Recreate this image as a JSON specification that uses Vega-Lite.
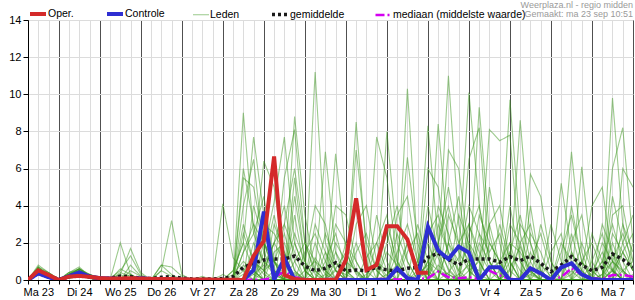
{
"$schema": "https://vega.github.io/schema/vega-lite/v6.json",
"width": 605, "height": 260,
"autosize": {"type": "none"},
"padding": {"left": 28, "top": 20, "right": 2, "bottom": 20},
"title": {"text": "Weerplaza.nl - regio midden", "subtitle": "Gemaakt: ma 23 sep 10:51", "anchor": "end", "frame": "group", "fontSize": 9, "subtitleFontSize": 9, "fontWeight": "normal", "color": "#9a9a9a", "subtitleColor": "#9a9a9a", "offset": -15, "subtitlePadding": 0, "font": "Liberation Sans", "subtitleFont": "Liberation Sans"},
"datasets": {
"op": [{"t":0,"v":0},{"t":1,"v":0.52},{"t":2,"v":0.27},{"t":3,"v":0},{"t":4,"v":0.18},{"t":5,"v":0.22},{"t":6,"v":0.17},{"t":7,"v":0.1},{"t":8,"v":0.08},{"t":9,"v":0.08},{"t":10,"v":0.1},{"t":11,"v":0.08},{"t":12,"v":0.06},{"t":13,"v":0.05},{"t":14,"v":0.05},{"t":15,"v":0.04},{"t":16,"v":0.03},{"t":17,"v":0.03},{"t":18,"v":0.02},{"t":19,"v":0.02},{"t":20,"v":0.02},{"t":21,"v":0},{"t":22,"v":1.3},{"t":23,"v":2.1},{"t":24,"v":6.65},{"t":25,"v":0.27},{"t":26,"v":0.05},{"t":27,"v":0},{"t":28,"v":0},{"t":29,"v":0},{"t":30,"v":0},{"t":31,"v":1.08},{"t":32,"v":4.4},{"t":33,"v":0.54},{"t":34,"v":0.81},{"t":35,"v":2.9},{"t":36,"v":2.9},{"t":37,"v":2.19},{"t":38,"v":0.39},{"t":39,"v":0.39}],
"ct": [{"t":0,"v":0},{"t":1,"v":0.36},{"t":2,"v":0.15},{"t":3,"v":0},{"t":4,"v":0.2},{"t":5,"v":0.41},{"t":6,"v":0.18},{"t":7,"v":0.1},{"t":8,"v":0.08},{"t":9,"v":0.06},{"t":10,"v":0.05},{"t":11,"v":0.1},{"t":12,"v":0.05},{"t":13,"v":0.03},{"t":14,"v":0.02},{"t":15,"v":0.02},{"t":16,"v":0},{"t":21,"v":0},{"t":22,"v":0.54},{"t":23,"v":3.68},{"t":24,"v":0},{"t":25,"v":1.17},{"t":26,"v":0},{"t":35,"v":0},{"t":36,"v":0.63},{"t":37,"v":0.1},{"t":38,"v":0},{"t":39,"v":2.87},{"t":40,"v":1.58},{"t":41,"v":1.13},{"t":42,"v":1.8},{"t":43,"v":1.47},{"t":44,"v":0},{"t":45,"v":0.68},{"t":46,"v":0.68},{"t":47,"v":0},{"t":48,"v":0},{"t":49,"v":0.63},{"t":50,"v":0.36},{"t":51,"v":0},{"t":52,"v":0.68},{"t":53,"v":0.9},{"t":54,"v":0.3},{"t":55,"v":0.05},{"t":56,"v":0},{"t":59,"v":0}],
"gm": [{"t":0,"v":0},{"t":1,"v":0.45},{"t":2,"v":0.25},{"t":3,"v":0.03},{"t":4,"v":0.2},{"t":5,"v":0.35},{"t":6,"v":0.2},{"t":7,"v":0.1},{"t":8,"v":0.1},{"t":9,"v":0.2},{"t":10,"v":0.18},{"t":11,"v":0.1},{"t":12,"v":0.08},{"t":13,"v":0.15},{"t":14,"v":0.18},{"t":15,"v":0.1},{"t":16,"v":0.05},{"t":17,"v":0.05},{"t":18,"v":0.05},{"t":19,"v":0.08},{"t":20,"v":0.18},{"t":21,"v":0.68},{"t":22,"v":0.9},{"t":23,"v":1.08},{"t":24,"v":1.13},{"t":25,"v":1.13},{"t":26,"v":1.29},{"t":27,"v":0.75},{"t":28,"v":0.5},{"t":29,"v":0.63},{"t":30,"v":0.93},{"t":31,"v":0.48},{"t":32,"v":0.54},{"t":33,"v":0.5},{"t":34,"v":0.68},{"t":35,"v":0.54},{"t":36,"v":0.5},{"t":37,"v":0.63},{"t":38,"v":0.68},{"t":39,"v":1.22},{"t":40,"v":1.44},{"t":41,"v":1.11},{"t":42,"v":0.81},{"t":43,"v":1.13},{"t":44,"v":1.13},{"t":45,"v":1.13},{"t":46,"v":0.95},{"t":47,"v":1.26},{"t":48,"v":1.04},{"t":49,"v":1.29},{"t":50,"v":0.9},{"t":51,"v":0.45},{"t":52,"v":0.81},{"t":53,"v":1.26},{"t":54,"v":0.81},{"t":55,"v":0.5},{"t":56,"v":0.68},{"t":57,"v":1.4},{"t":58,"v":1.11},{"t":59,"v":0.68}],
"md": [{"t":0,"v":0},{"t":1,"v":0.4},{"t":2,"v":0.2},{"t":3,"v":0},{"t":4,"v":0.2},{"t":5,"v":0.35},{"t":6,"v":0.15},{"t":7,"v":0.05},{"t":8,"v":0.02},{"t":23,"v":0.02},{"t":24,"v":0.15},{"t":25,"v":0.45},{"t":26,"v":0.15},{"t":27,"v":0.05},{"t":28,"v":0.03},{"t":29,"v":0.05},{"t":30,"v":0.05},{"t":31,"v":0.05},{"t":32,"v":0.03},{"t":33,"v":0.03},{"t":34,"v":0.05},{"t":35,"v":0.05},{"t":36,"v":0.03},{"t":37,"v":0.05},{"t":38,"v":0.05},{"t":39,"v":0.1},{"t":40,"v":0.45},{"t":41,"v":0.15},{"t":42,"v":0.1},{"t":43,"v":0.15},{"t":44,"v":0.05},{"t":45,"v":0.5},{"t":46,"v":0.25},{"t":47,"v":0.05},{"t":48,"v":0.05},{"t":49,"v":0.68},{"t":50,"v":0.3},{"t":51,"v":0.05},{"t":52,"v":0.15},{"t":53,"v":0.63},{"t":54,"v":0.3},{"t":55,"v":0.1},{"t":56,"v":0.05},{"t":57,"v":0.27},{"t":58,"v":0.27},{"t":59,"v":0.18}],
"L": [
{"m":1,"t":0,"v":0},{"m":1,"t":1,"v":0.6},{"m":1,"t":2,"v":0.3},{"m":1,"t":3,"v":0},{"m":1,"t":4,"v":0.2},{"m":1,"t":5,"v":0.4},{"m":1,"t":6,"v":0.2},{"m":1,"t":7,"v":0.1},{"m":1,"t":8,"v":0},{"m":1,"t":20,"v":0},{"m":1,"t":21,"v":9},{"m":1,"t":22,"v":2.5},{"m":1,"t":23,"v":1},{"m":1,"t":24,"v":0.5},{"m":1,"t":25,"v":0},{"m":1,"t":27,"v":0},{"m":1,"t":28,"v":1.2},{"m":1,"t":29,"v":0.3},{"m":1,"t":30,"v":0},{"m":1,"t":33,"v":0},{"m":1,"t":34,"v":0.8},{"m":1,"t":35,"v":2.5},{"m":1,"t":36,"v":0.5},{"m":1,"t":37,"v":0},{"m":1,"t":39,"v":0},{"m":1,"t":40,"v":1.5},{"m":1,"t":41,"v":11},{"m":1,"t":42,"v":3},{"m":1,"t":43,"v":0.5},{"m":1,"t":44,"v":0},{"m":1,"t":46,"v":0},{"m":1,"t":47,"v":0.6},{"m":1,"t":48,"v":1.8},{"m":1,"t":49,"v":0.4},{"m":1,"t":50,"v":0},{"m":1,"t":55,"v":0},{"m":1,"t":56,"v":0.3},{"m":1,"t":57,"v":2},{"m":1,"t":58,"v":0.5},{"m":1,"t":59,"v":0},
{"m":2,"t":0,"v":0},{"m":2,"t":1,"v":0.4},{"m":2,"t":2,"v":0.2},{"m":2,"t":3,"v":0},{"m":2,"t":4,"v":0.3},{"m":2,"t":5,"v":0.6},{"m":2,"t":6,"v":0.2},{"m":2,"t":7,"v":0.05},{"m":2,"t":8,"v":0},{"m":2,"t":19,"v":0},{"m":2,"t":20,"v":0.5},{"m":2,"t":21,"v":2},{"m":2,"t":22,"v":7.7},{"m":2,"t":23,"v":3.5},{"m":2,"t":24,"v":1},{"m":2,"t":25,"v":0.3},{"m":2,"t":26,"v":0},{"m":2,"t":29,"v":0},{"m":2,"t":30,"v":0.6},{"m":2,"t":31,"v":1.5},{"m":2,"t":32,"v":0.4},{"m":2,"t":33,"v":0},{"m":2,"t":37,"v":0},{"m":2,"t":38,"v":0.5},{"m":2,"t":39,"v":8.3},{"m":2,"t":40,"v":2},{"m":2,"t":41,"v":0.5},{"m":2,"t":42,"v":0},{"m":2,"t":43,"v":0},{"m":2,"t":44,"v":1.2},{"m":2,"t":45,"v":3},{"m":2,"t":46,"v":0.8},{"m":2,"t":47,"v":0},{"m":2,"t":51,"v":0},{"m":2,"t":52,"v":0.5},{"m":2,"t":53,"v":6.9},{"m":2,"t":54,"v":1.5},{"m":2,"t":55,"v":0},{"m":2,"t":58,"v":0},{"m":2,"t":59,"v":0.3},
{"m":3,"t":0,"v":0},{"m":3,"t":1,"v":0.8},{"m":3,"t":2,"v":0.4},{"m":3,"t":3,"v":0.05},{"m":3,"t":4,"v":0.2},{"m":3,"t":5,"v":0.3},{"m":3,"t":6,"v":0.1},{"m":3,"t":7,"v":0.1},{"m":3,"t":8,"v":0},{"m":3,"t":9,"v":2},{"m":3,"t":10,"v":0.3},{"m":3,"t":11,"v":0},{"m":3,"t":22,"v":0},{"m":3,"t":23,"v":1.5},{"m":3,"t":24,"v":4.2},{"m":3,"t":25,"v":7.7},{"m":3,"t":26,"v":2},{"m":3,"t":27,"v":0.5},{"m":3,"t":28,"v":0},{"m":3,"t":32,"v":0},{"m":3,"t":33,"v":0.3},{"m":3,"t":34,"v":1},{"m":3,"t":35,"v":0.2},{"m":3,"t":36,"v":0},{"m":3,"t":40,"v":0},{"m":3,"t":41,"v":0.4},{"m":3,"t":42,"v":1.2},{"m":3,"t":43,"v":10.1},{"m":3,"t":44,"v":4},{"m":3,"t":45,"v":1},{"m":3,"t":46,"v":0},{"m":3,"t":49,"v":0},{"m":3,"t":50,"v":0.8},{"m":3,"t":51,"v":0.2},{"m":3,"t":52,"v":0},{"m":3,"t":56,"v":0},{"m":3,"t":57,"v":9.8},{"m":3,"t":58,"v":3},{"m":3,"t":59,"v":0.5},
{"m":4,"t":0,"v":0},{"m":4,"t":1,"v":0.3},{"m":4,"t":2,"v":0.1},{"m":4,"t":3,"v":0},{"m":4,"t":4,"v":0.1},{"m":4,"t":5,"v":0.5},{"m":4,"t":6,"v":0.3},{"m":4,"t":7,"v":0.1},{"m":4,"t":8,"v":0},{"m":4,"t":20,"v":0},{"m":4,"t":21,"v":0.5},{"m":4,"t":22,"v":1},{"m":4,"t":23,"v":0.3},{"m":4,"t":24,"v":0},{"m":4,"t":25,"v":0},{"m":4,"t":26,"v":8.8},{"m":4,"t":27,"v":3.5},{"m":4,"t":28,"v":0.5},{"m":4,"t":29,"v":0},{"m":4,"t":35,"v":0},{"m":4,"t":36,"v":0.5},{"m":4,"t":37,"v":2},{"m":4,"t":38,"v":0.8},{"m":4,"t":39,"v":0},{"m":4,"t":45,"v":0},{"m":4,"t":46,"v":0.5},{"m":4,"t":47,"v":9.7},{"m":4,"t":48,"v":2.5},{"m":4,"t":49,"v":0.5},{"m":4,"t":50,"v":0},{"m":4,"t":54,"v":0},{"m":4,"t":55,"v":0.4},{"m":4,"t":56,"v":1.5},{"m":4,"t":57,"v":0.5},{"m":4,"t":58,"v":0},{"m":4,"t":59,"v":0},
{"m":5,"t":0,"v":0},{"m":5,"t":1,"v":0.5},{"m":5,"t":2,"v":0.3},{"m":5,"t":3,"v":0},{"m":5,"t":4,"v":0.4},{"m":5,"t":5,"v":0.7},{"m":5,"t":6,"v":0.2},{"m":5,"t":7,"v":0.1},{"m":5,"t":8,"v":0.05},{"m":5,"t":9,"v":0.3},{"m":5,"t":10,"v":1.7},{"m":5,"t":11,"v":0.4},{"m":5,"t":12,"v":0},{"m":5,"t":21,"v":0},{"m":5,"t":22,"v":0.3},{"m":5,"t":23,"v":0.8},{"m":5,"t":24,"v":2},{"m":5,"t":25,"v":1},{"m":5,"t":26,"v":0.3},{"m":5,"t":27,"v":0},{"m":5,"t":28,"v":11.2},{"m":5,"t":29,"v":2},{"m":5,"t":30,"v":0.5},{"m":5,"t":31,"v":0},{"m":5,"t":38,"v":0},{"m":5,"t":39,"v":0.6},{"m":5,"t":40,"v":1.8},{"m":5,"t":41,"v":0.6},{"m":5,"t":42,"v":0},{"m":5,"t":43,"v":0},{"m":5,"t":44,"v":9.3},{"m":5,"t":45,"v":2.5},{"m":5,"t":46,"v":0.3},{"m":5,"t":47,"v":0},{"m":5,"t":52,"v":0},{"m":5,"t":53,"v":0.3},{"m":5,"t":54,"v":1},{"m":5,"t":55,"v":0.2},{"m":5,"t":56,"v":0},{"m":5,"t":59,"v":0},
{"m":6,"t":0,"v":0},{"m":6,"t":1,"v":0.7},{"m":6,"t":2,"v":0.2},{"m":6,"t":3,"v":0},{"m":6,"t":4,"v":0.2},{"m":6,"t":5,"v":0.3},{"m":6,"t":6,"v":0.1},{"m":6,"t":7,"v":0},{"m":6,"t":20,"v":0},{"m":6,"t":21,"v":4},{"m":6,"t":22,"v":6.5},{"m":6,"t":23,"v":1.5},{"m":6,"t":24,"v":0.3},{"m":6,"t":25,"v":0},{"m":6,"t":29,"v":0},{"m":6,"t":30,"v":6.8},{"m":6,"t":31,"v":1.5},{"m":6,"t":32,"v":0.3},{"m":6,"t":33,"v":0},{"m":6,"t":41,"v":0},{"m":6,"t":42,"v":0.3},{"m":6,"t":43,"v":0.8},{"m":6,"t":44,"v":0.5},{"m":6,"t":45,"v":8.1},{"m":6,"t":46,"v":7.5},{"m":6,"t":47,"v":7.8},{"m":6,"t":48,"v":1},{"m":6,"t":49,"v":0},{"m":6,"t":56,"v":0},{"m":6,"t":57,"v":0.5},{"m":6,"t":58,"v":1.5},{"m":6,"t":59,"v":0.5},
{"m":7,"t":0,"v":0},{"m":7,"t":1,"v":0.4},{"m":7,"t":2,"v":0.3},{"m":7,"t":3,"v":0},{"m":7,"t":4,"v":0.3},{"m":7,"t":5,"v":0.5},{"m":7,"t":6,"v":0.2},{"m":7,"t":7,"v":0.1},{"m":7,"t":8,"v":0},{"m":7,"t":9,"v":0.4},{"m":7,"t":10,"v":0.2},{"m":7,"t":11,"v":0},{"m":7,"t":19,"v":0},{"m":7,"t":20,"v":0.3},{"m":7,"t":21,"v":1},{"m":7,"t":22,"v":0.5},{"m":7,"t":23,"v":0},{"m":7,"t":27,"v":0},{"m":7,"t":28,"v":0.5},{"m":7,"t":29,"v":6.9},{"m":7,"t":30,"v":1.5},{"m":7,"t":31,"v":0},{"m":7,"t":34,"v":0},{"m":7,"t":35,"v":8},{"m":7,"t":36,"v":2},{"m":7,"t":37,"v":0.3},{"m":7,"t":38,"v":0},{"m":7,"t":46,"v":0},{"m":7,"t":47,"v":0.5},{"m":7,"t":48,"v":8.6},{"m":7,"t":49,"v":2},{"m":7,"t":50,"v":0.4},{"m":7,"t":51,"v":0},{"m":7,"t":55,"v":0},{"m":7,"t":56,"v":0.3},{"m":7,"t":57,"v":1},{"m":7,"t":58,"v":0.4},{"m":7,"t":59,"v":0},
{"m":8,"t":0,"v":0},{"m":8,"t":1,"v":0.6},{"m":8,"t":2,"v":0.4},{"m":8,"t":3,"v":0.05},{"m":8,"t":4,"v":0.1},{"m":8,"t":5,"v":0.2},{"m":8,"t":6,"v":0.1},{"m":8,"t":7,"v":0},{"m":8,"t":12,"v":0},{"m":8,"t":13,"v":0.5},{"m":8,"t":14,"v":3.2},{"m":8,"t":15,"v":0.3},{"m":8,"t":16,"v":0},{"m":8,"t":23,"v":0},{"m":8,"t":24,"v":0.5},{"m":8,"t":25,"v":5.5},{"m":8,"t":26,"v":8.1},{"m":8,"t":27,"v":2},{"m":8,"t":28,"v":0.3},{"m":8,"t":29,"v":0},{"m":8,"t":31,"v":0},{"m":8,"t":32,"v":7},{"m":8,"t":33,"v":2},{"m":8,"t":34,"v":0.5},{"m":8,"t":35,"v":0},{"m":8,"t":39,"v":0},{"m":8,"t":40,"v":0.5},{"m":8,"t":41,"v":0.3},{"m":8,"t":42,"v":0},{"m":8,"t":51,"v":0},{"m":8,"t":52,"v":5.2},{"m":8,"t":53,"v":1.5},{"m":8,"t":54,"v":0.3},{"m":8,"t":55,"v":0},{"m":8,"t":59,"v":0},
{"m":9,"t":0,"v":0},{"m":9,"t":1,"v":0.3},{"m":9,"t":2,"v":0.2},{"m":9,"t":3,"v":0},{"m":9,"t":4,"v":0.4},{"m":9,"t":5,"v":0.6},{"m":9,"t":6,"v":0.3},{"m":9,"t":7,"v":0.1},{"m":9,"t":8,"v":0.1},{"m":9,"t":9,"v":0.5},{"m":9,"t":10,"v":1.3},{"m":9,"t":11,"v":0.3},{"m":9,"t":12,"v":0},{"m":9,"t":20,"v":0},{"m":9,"t":21,"v":5.5},{"m":9,"t":22,"v":5},{"m":9,"t":23,"v":2},{"m":9,"t":24,"v":0.5},{"m":9,"t":25,"v":0},{"m":9,"t":28,"v":0},{"m":9,"t":29,"v":0.3},{"m":9,"t":30,"v":4},{"m":9,"t":31,"v":3.5},{"m":9,"t":32,"v":1},{"m":9,"t":33,"v":0},{"m":9,"t":40,"v":0},{"m":9,"t":41,"v":7},{"m":9,"t":42,"v":6},{"m":9,"t":43,"v":1.5},{"m":9,"t":44,"v":0.3},{"m":9,"t":45,"v":0},{"m":9,"t":53,"v":0},{"m":9,"t":54,"v":0.5},{"m":9,"t":55,"v":4},{"m":9,"t":56,"v":5},{"m":9,"t":57,"v":1},{"m":9,"t":58,"v":0},{"m":9,"t":59,"v":0},
{"m":10,"t":0,"v":0},{"m":10,"t":1,"v":0.5},{"m":10,"t":2,"v":0.2},{"m":10,"t":3,"v":0},{"m":10,"t":4,"v":0.2},{"m":10,"t":5,"v":0.4},{"m":10,"t":6,"v":0.1},{"m":10,"t":7,"v":0.05},{"m":10,"t":8,"v":0},{"m":10,"t":29,"v":0},{"m":10,"t":30,"v":0.5},{"m":10,"t":31,"v":0.3},{"m":10,"t":32,"v":0},{"m":10,"t":33,"v":0},{"m":10,"t":34,"v":7.7},{"m":10,"t":35,"v":5.5},{"m":10,"t":36,"v":1},{"m":10,"t":37,"v":0},{"m":10,"t":39,"v":0},{"m":10,"t":40,"v":8.4},{"m":10,"t":41,"v":2},{"m":10,"t":42,"v":0.3},{"m":10,"t":43,"v":0},{"m":10,"t":56,"v":0},{"m":10,"t":57,"v":6},{"m":10,"t":58,"v":8.2},{"m":10,"t":59,"v":2},
{"m":11,"t":0,"v":0},{"m":11,"t":1,"v":0.4},{"m":11,"t":2,"v":0.3},{"m":11,"t":3,"v":0},{"m":11,"t":4,"v":0.3},{"m":11,"t":5,"v":0.4},{"m":11,"t":6,"v":0.2},{"m":11,"t":7,"v":0.1},{"m":11,"t":8,"v":0},{"m":11,"t":12,"v":0},{"m":11,"t":13,"v":0.8},{"m":11,"t":14,"v":0.7},{"m":11,"t":15,"v":0.2},{"m":11,"t":16,"v":0},{"m":11,"t":21,"v":0},{"m":11,"t":22,"v":1.2},{"m":11,"t":23,"v":6.4},{"m":11,"t":24,"v":5},{"m":11,"t":25,"v":1},{"m":11,"t":26,"v":0},{"m":11,"t":34,"v":0},{"m":11,"t":35,"v":0.3},{"m":11,"t":36,"v":0.8},{"m":11,"t":37,"v":6.6},{"m":11,"t":38,"v":2},{"m":11,"t":39,"v":0.3},{"m":11,"t":40,"v":0},{"m":11,"t":48,"v":0},{"m":11,"t":49,"v":5.7},{"m":11,"t":50,"v":4.5},{"m":11,"t":51,"v":1},{"m":11,"t":52,"v":0},{"m":11,"t":59,"v":0},
{"m":12,"t":0,"v":0},{"m":12,"t":1,"v":0.7},{"m":12,"t":2,"v":0.3},{"m":12,"t":3,"v":0},{"m":12,"t":4,"v":0.1},{"m":12,"t":5,"v":0.3},{"m":12,"t":6,"v":0.1},{"m":12,"t":7,"v":0.05},{"m":12,"t":8,"v":0},{"m":12,"t":9,"v":0.3},{"m":12,"t":10,"v":0},{"m":12,"t":25,"v":0},{"m":12,"t":26,"v":4.5},{"m":12,"t":27,"v":1},{"m":12,"t":28,"v":4},{"m":12,"t":29,"v":3},{"m":12,"t":30,"v":0.5},{"m":12,"t":31,"v":0},{"m":12,"t":38,"v":0},{"m":12,"t":39,"v":6},{"m":12,"t":40,"v":5},{"m":12,"t":41,"v":1},{"m":12,"t":42,"v":0},{"m":12,"t":50,"v":0},{"m":12,"t":51,"v":3},{"m":12,"t":52,"v":1},{"m":12,"t":53,"v":0},{"m":12,"t":54,"v":6.1},{"m":12,"t":55,"v":1},{"m":12,"t":56,"v":0},{"m":12,"t":59,"v":0},
{"m":13,"t":0,"v":0},{"m":13,"t":1,"v":0.5},{"m":13,"t":2,"v":0.1},{"m":13,"t":3,"v":0},{"m":13,"t":4,"v":0.3},{"m":13,"t":5,"v":0.6},{"m":13,"t":6,"v":0.2},{"m":13,"t":7,"v":0.1},{"m":13,"t":8,"v":0},{"m":13,"t":16,"v":0},{"m":13,"t":17,"v":0.2},{"m":13,"t":18,"v":0},{"m":13,"t":20,"v":0},{"m":13,"t":21,"v":0.3},{"m":13,"t":22,"v":0},{"m":13,"t":36,"v":0},{"m":13,"t":37,"v":10.3},{"m":13,"t":38,"v":1.5},{"m":13,"t":39,"v":0},{"m":13,"t":42,"v":0},{"m":13,"t":43,"v":6.5},{"m":13,"t":44,"v":8.2},{"m":13,"t":45,"v":1},{"m":13,"t":46,"v":0},{"m":13,"t":59,"v":0},
{"m":14,"t":0,"v":0},{"m":14,"t":1,"v":0.3},{"m":14,"t":2,"v":0.2},{"m":14,"t":3,"v":0},{"m":14,"t":4,"v":0.2},{"m":14,"t":5,"v":0.5},{"m":14,"t":6,"v":0.2},{"m":14,"t":7,"v":0.1},{"m":14,"t":8,"v":0},{"m":14,"t":9,"v":0},{"m":14,"t":10,"v":0.5},{"m":14,"t":11,"v":0.2},{"m":14,"t":12,"v":0},{"m":14,"t":21,"v":0},{"m":14,"t":22,"v":0.5},{"m":14,"t":23,"v":2.5},{"m":14,"t":24,"v":1},{"m":14,"t":25,"v":0},{"m":14,"t":31,"v":0},{"m":14,"t":32,"v":8.5},{"m":14,"t":33,"v":1.5},{"m":14,"t":34,"v":0},{"m":14,"t":44,"v":0},{"m":14,"t":45,"v":5},{"m":14,"t":46,"v":2},{"m":14,"t":47,"v":0},{"m":14,"t":48,"v":0},{"m":14,"t":49,"v":4},{"m":14,"t":50,"v":0.5},{"m":14,"t":51,"v":0},{"m":14,"t":57,"v":0},{"m":14,"t":58,"v":6},{"m":14,"t":59,"v":5},
{"m":15,"t":0,"v":0},{"m":15,"t":1,"v":0.6},{"m":15,"t":2,"v":0.3},{"m":15,"t":3,"v":0},{"m":15,"t":4,"v":0.2},{"m":15,"t":5,"v":0.3},{"m":15,"t":6,"v":0.1},{"m":15,"t":7,"v":0},{"m":15,"t":8,"v":0},{"m":15,"t":9,"v":0.6},{"m":15,"t":10,"v":0.3},{"m":15,"t":11,"v":0},{"m":15,"t":20,"v":0},{"m":15,"t":21,"v":1.5},{"m":15,"t":22,"v":3},{"m":15,"t":23,"v":2},{"m":15,"t":24,"v":1},{"m":15,"t":25,"v":0.5},{"m":15,"t":26,"v":2.5},{"m":15,"t":27,"v":1},{"m":15,"t":28,"v":0},{"m":15,"t":29,"v":0},{"m":15,"t":30,"v":2},{"m":15,"t":31,"v":1},{"m":15,"t":32,"v":0.5},{"m":15,"t":33,"v":0},{"m":15,"t":34,"v":0},{"m":15,"t":35,"v":1.5},{"m":15,"t":36,"v":0.8},{"m":15,"t":37,"v":0},{"m":15,"t":38,"v":0},{"m":15,"t":39,"v":2.5},{"m":15,"t":40,"v":3.5},{"m":15,"t":41,"v":1.5},{"m":15,"t":42,"v":0.5},{"m":15,"t":43,"v":2},{"m":15,"t":44,"v":1},{"m":15,"t":45,"v":0},{"m":15,"t":46,"v":0},{"m":15,"t":47,"v":2},{"m":15,"t":48,"v":1.5},{"m":15,"t":49,"v":0.5},{"m":15,"t":50,"v":0},{"m":15,"t":52,"v":0},{"m":15,"t":53,"v":1.5},{"m":15,"t":54,"v":0.5},{"m":15,"t":55,"v":0},{"m":15,"t":56,"v":0},{"m":15,"t":57,"v":2.5},{"m":15,"t":58,"v":1.5},{"m":15,"t":59,"v":0.5},
{"m":16,"t":0,"v":0},{"m":16,"t":1,"v":0.4},{"m":16,"t":2,"v":0.2},{"m":16,"t":3,"v":0},{"m":16,"t":4,"v":0.3},{"m":16,"t":5,"v":0.5},{"m":16,"t":6,"v":0.1},{"m":16,"t":7,"v":0},{"m":16,"t":22,"v":0},{"m":16,"t":23,"v":3},{"m":16,"t":24,"v":2.5},{"m":16,"t":25,"v":1.5},{"m":16,"t":26,"v":0},{"m":16,"t":27,"v":0.5},{"m":16,"t":28,"v":1},{"m":16,"t":29,"v":0.5},{"m":16,"t":30,"v":0},{"m":16,"t":32,"v":0},{"m":16,"t":33,"v":1.2},{"m":16,"t":34,"v":2},{"m":16,"t":35,"v":0.5},{"m":16,"t":36,"v":0},{"m":16,"t":37,"v":0},{"m":16,"t":38,"v":1},{"m":16,"t":39,"v":3},{"m":16,"t":40,"v":1.2},{"m":16,"t":41,"v":0},{"m":16,"t":43,"v":0},{"m":16,"t":44,"v":3.5},{"m":16,"t":45,"v":2},{"m":16,"t":46,"v":1},{"m":16,"t":47,"v":0},{"m":16,"t":48,"v":0},{"m":16,"t":49,"v":1},{"m":16,"t":50,"v":2.5},{"m":16,"t":51,"v":0.5},{"m":16,"t":52,"v":0},{"m":16,"t":55,"v":0},{"m":16,"t":56,"v":1},{"m":16,"t":57,"v":3},{"m":16,"t":58,"v":1},{"m":16,"t":59,"v":0},
{"m":17,"t":0,"v":0},{"m":17,"t":1,"v":0.5},{"m":17,"t":2,"v":0.3},{"m":17,"t":3,"v":0.05},{"m":17,"t":4,"v":0.2},{"m":17,"t":5,"v":0.4},{"m":17,"t":6,"v":0.2},{"m":17,"t":7,"v":0.1},{"m":17,"t":8,"v":0},{"m":17,"t":12,"v":0},{"m":17,"t":13,"v":0.5},{"m":17,"t":14,"v":0.2},{"m":17,"t":15,"v":0},{"m":17,"t":20,"v":0},{"m":17,"t":21,"v":2.5},{"m":17,"t":22,"v":1},{"m":17,"t":23,"v":0},{"m":17,"t":24,"v":0},{"m":17,"t":25,"v":3},{"m":17,"t":26,"v":1.5},{"m":17,"t":27,"v":0},{"m":17,"t":28,"v":0},{"m":17,"t":29,"v":1},{"m":17,"t":30,"v":2.5},{"m":17,"t":31,"v":0.5},{"m":17,"t":32,"v":0},{"m":17,"t":35,"v":0},{"m":17,"t":36,"v":1.5},{"m":17,"t":37,"v":3},{"m":17,"t":38,"v":1},{"m":17,"t":39,"v":0},{"m":17,"t":40,"v":2},{"m":17,"t":41,"v":4},{"m":17,"t":42,"v":1.5},{"m":17,"t":43,"v":0.5},{"m":17,"t":44,"v":0},{"m":17,"t":45,"v":0},{"m":17,"t":46,"v":3},{"m":17,"t":47,"v":1},{"m":17,"t":48,"v":0},{"m":17,"t":51,"v":0},{"m":17,"t":52,"v":1.5},{"m":17,"t":53,"v":3.5},{"m":17,"t":54,"v":1},{"m":17,"t":55,"v":0},{"m":17,"t":57,"v":0},{"m":17,"t":58,"v":0.5},{"m":17,"t":59,"v":1},
{"m":18,"t":0,"v":0},{"m":18,"t":1,"v":0.6},{"m":18,"t":2,"v":0.2},{"m":18,"t":3,"v":0},{"m":18,"t":4,"v":0.2},{"m":18,"t":5,"v":0.3},{"m":18,"t":6,"v":0.1},{"m":18,"t":7,"v":0},{"m":18,"t":21,"v":0},{"m":18,"t":22,"v":2},{"m":18,"t":23,"v":1},{"m":18,"t":24,"v":3.5},{"m":18,"t":25,"v":1},{"m":18,"t":26,"v":0},{"m":18,"t":27,"v":0},{"m":18,"t":28,"v":2},{"m":18,"t":29,"v":0.5},{"m":18,"t":30,"v":0},{"m":18,"t":33,"v":0},{"m":18,"t":34,"v":1},{"m":18,"t":35,"v":0.5},{"m":18,"t":36,"v":0},{"m":18,"t":38,"v":0},{"m":18,"t":39,"v":1},{"m":18,"t":40,"v":2},{"m":18,"t":41,"v":5},{"m":18,"t":42,"v":2},{"m":18,"t":43,"v":3},{"m":18,"t":44,"v":1},{"m":18,"t":45,"v":0},{"m":18,"t":47,"v":0},{"m":18,"t":48,"v":2},{"m":18,"t":49,"v":3},{"m":18,"t":50,"v":0.5},{"m":18,"t":51,"v":0},{"m":18,"t":53,"v":0},{"m":18,"t":54,"v":2},{"m":18,"t":55,"v":0.5},{"m":18,"t":56,"v":0},{"m":18,"t":57,"v":0},{"m":18,"t":58,"v":3},{"m":18,"t":59,"v":1.5},
{"m":19,"t":0,"v":0},{"m":19,"t":1,"v":0.3},{"m":19,"t":2,"v":0.1},{"m":19,"t":3,"v":0},{"m":19,"t":4,"v":0.1},{"m":19,"t":5,"v":0.2},{"m":19,"t":6,"v":0.1},{"m":19,"t":7,"v":0},{"m":19,"t":18,"v":0},{"m":19,"t":19,"v":4.1},{"m":19,"t":20,"v":1.2},{"m":19,"t":21,"v":0.5},{"m":19,"t":22,"v":0},{"m":19,"t":23,"v":0},{"m":19,"t":24,"v":1.5},{"m":19,"t":25,"v":2},{"m":19,"t":26,"v":0.5},{"m":19,"t":27,"v":0},{"m":19,"t":29,"v":0},{"m":19,"t":30,"v":1},{"m":19,"t":31,"v":0},{"m":19,"t":34,"v":0},{"m":19,"t":35,"v":3},{"m":19,"t":36,"v":1},{"m":19,"t":37,"v":0},{"m":19,"t":40,"v":0},{"m":19,"t":41,"v":2},{"m":19,"t":42,"v":1},{"m":19,"t":43,"v":4},{"m":19,"t":44,"v":2.5},{"m":19,"t":45,"v":0.5},{"m":19,"t":46,"v":0},{"m":19,"t":47,"v":1.5},{"m":19,"t":48,"v":0.5},{"m":19,"t":49,"v":0},{"m":19,"t":52,"v":0},{"m":19,"t":53,"v":2.5},{"m":19,"t":54,"v":0.5},{"m":19,"t":55,"v":0},{"m":19,"t":56,"v":0},{"m":19,"t":57,"v":0.5},{"m":19,"t":58,"v":0},{"m":19,"t":59,"v":0},
{"m":20,"t":0,"v":0},{"m":20,"t":1,"v":0.5},{"m":20,"t":2,"v":0.3},{"m":20,"t":3,"v":0},{"m":20,"t":4,"v":0.4},{"m":20,"t":5,"v":0.5},{"m":20,"t":6,"v":0.2},{"m":20,"t":7,"v":0.1},{"m":20,"t":8,"v":0},{"m":20,"t":9,"v":0},{"m":20,"t":10,"v":0.3},{"m":20,"t":11,"v":0},{"m":20,"t":20,"v":0},{"m":20,"t":21,"v":0.8},{"m":20,"t":22,"v":0.3},{"m":20,"t":23,"v":0},{"m":20,"t":25,"v":0},{"m":20,"t":26,"v":1},{"m":20,"t":27,"v":2},{"m":20,"t":28,"v":0.5},{"m":20,"t":29,"v":0},{"m":20,"t":31,"v":0},{"m":20,"t":32,"v":2},{"m":20,"t":33,"v":0.5},{"m":20,"t":34,"v":0},{"m":20,"t":36,"v":0},{"m":20,"t":37,"v":1.5},{"m":20,"t":38,"v":2.5},{"m":20,"t":39,"v":0.5},{"m":20,"t":40,"v":0},{"m":20,"t":43,"v":0},{"m":20,"t":44,"v":2},{"m":20,"t":45,"v":1},{"m":20,"t":46,"v":0},{"m":20,"t":47,"v":3},{"m":20,"t":48,"v":2},{"m":20,"t":49,"v":0},{"m":20,"t":54,"v":0},{"m":20,"t":55,"v":0.3},{"m":20,"t":56,"v":1},{"m":20,"t":57,"v":0.5},{"m":20,"t":58,"v":0},{"m":20,"t":59,"v":0},
{"m":21,"t":0,"v":0},{"m":21,"t":1,"v":0.4},{"m":21,"t":2,"v":0.2},{"m":21,"t":3,"v":0},{"m":21,"t":4,"v":0.1},{"m":21,"t":5,"v":0.3},{"m":21,"t":6,"v":0.1},{"m":21,"t":7,"v":0},{"m":21,"t":18,"v":0},{"m":21,"t":19,"v":0.3},{"m":21,"t":20,"v":0},{"m":21,"t":22,"v":0},{"m":21,"t":23,"v":0.5},{"m":21,"t":24,"v":1},{"m":21,"t":25,"v":0},{"m":21,"t":26,"v":3.5},{"m":21,"t":27,"v":0.5},{"m":21,"t":28,"v":0},{"m":21,"t":38,"v":0},{"m":21,"t":39,"v":1},{"m":21,"t":40,"v":0.5},{"m":21,"t":41,"v":0},{"m":21,"t":42,"v":0},{"m":21,"t":43,"v":1},{"m":21,"t":44,"v":0},{"m":21,"t":48,"v":0},{"m":21,"t":49,"v":0.5},{"m":21,"t":50,"v":0},{"m":21,"t":56,"v":0},{"m":21,"t":57,"v":1},{"m":21,"t":58,"v":0.5},{"m":21,"t":59,"v":0},
{"m":22,"t":0,"v":0},{"m":22,"t":1,"v":0.7},{"m":22,"t":2,"v":0.4},{"m":22,"t":3,"v":0},{"m":22,"t":4,"v":0.3},{"m":22,"t":5,"v":0.6},{"m":22,"t":6,"v":0.3},{"m":22,"t":7,"v":0.1},{"m":22,"t":8,"v":0},{"m":22,"t":12,"v":0},{"m":22,"t":13,"v":0.8},{"m":22,"t":14,"v":0.3},{"m":22,"t":15,"v":0},{"m":22,"t":37,"v":0},{"m":22,"t":38,"v":0.3},{"m":22,"t":39,"v":0.8},{"m":22,"t":40,"v":0},{"m":22,"t":59,"v":0},
{"m":23,"t":0,"v":0},{"m":23,"t":1,"v":0.5},{"m":23,"t":2,"v":0.2},{"m":23,"t":3,"v":0},{"m":23,"t":4,"v":0.2},{"m":23,"t":5,"v":0.4},{"m":23,"t":6,"v":0.1},{"m":23,"t":7,"v":0},{"m":23,"t":21,"v":0},{"m":23,"t":22,"v":0.5},{"m":23,"t":23,"v":0},{"m":23,"t":42,"v":0},{"m":23,"t":43,"v":0.5},{"m":23,"t":44,"v":1},{"m":23,"t":45,"v":0},{"m":23,"t":52,"v":0},{"m":23,"t":53,"v":0.5},{"m":23,"t":54,"v":0},{"m":23,"t":59,"v":0},
{"m":24,"t":0,"v":0},{"m":24,"t":1,"v":0.3},{"m":24,"t":2,"v":0.1},{"m":24,"t":3,"v":0},{"m":24,"t":4,"v":0.2},{"m":24,"t":5,"v":0.3},{"m":24,"t":6,"v":0.1},{"m":24,"t":7,"v":0},{"m":24,"t":25,"v":0},{"m":24,"t":26,"v":0.4},{"m":24,"t":27,"v":0},{"m":24,"t":39,"v":0},{"m":24,"t":40,"v":0.8},{"m":24,"t":41,"v":0.3},{"m":24,"t":42,"v":0},{"m":24,"t":48,"v":0},{"m":24,"t":49,"v":0.3},{"m":24,"t":50,"v":0},{"m":24,"t":56,"v":0},{"m":24,"t":57,"v":0.6},{"m":24,"t":58,"v":0},{"m":24,"t":59,"v":0},
{"m":25,"t":0,"v":0},{"m":25,"t":1,"v":0.5},{"m":25,"t":2,"v":0.2},{"m":25,"t":3,"v":0},{"m":25,"t":4,"v":0.3},{"m":25,"t":5,"v":0.4},{"m":25,"t":6,"v":0.1},{"m":25,"t":7,"v":0},{"m":25,"t":20,"v":0},{"m":25,"t":21,"v":3},{"m":25,"t":22,"v":1},{"m":25,"t":23,"v":0.5},{"m":25,"t":24,"v":2},{"m":25,"t":25,"v":4},{"m":25,"t":26,"v":1},{"m":25,"t":27,"v":0},{"m":25,"t":29,"v":0},{"m":25,"t":30,"v":3},{"m":25,"t":31,"v":2},{"m":25,"t":32,"v":0.5},{"m":25,"t":33,"v":0},{"m":25,"t":35,"v":0},{"m":25,"t":36,"v":2.5},{"m":25,"t":37,"v":1},{"m":25,"t":38,"v":0},{"m":25,"t":40,"v":0},{"m":25,"t":41,"v":3.5},{"m":25,"t":42,"v":2},{"m":25,"t":43,"v":1},{"m":25,"t":44,"v":0},{"m":25,"t":46,"v":0},{"m":25,"t":47,"v":4},{"m":25,"t":48,"v":1},{"m":25,"t":49,"v":0},{"m":25,"t":52,"v":0},{"m":25,"t":53,"v":2},{"m":25,"t":54,"v":3.5},{"m":25,"t":55,"v":0.5},{"m":25,"t":56,"v":0},{"m":25,"t":57,"v":4.5},{"m":25,"t":58,"v":2},{"m":25,"t":59,"v":0.5},
{"m":26,"t":0,"v":0},{"m":26,"t":1,"v":0.6},{"m":26,"t":2,"v":0.3},{"m":26,"t":3,"v":0},{"m":26,"t":4,"v":0.2},{"m":26,"t":5,"v":0.5},{"m":26,"t":6,"v":0.2},{"m":26,"t":7,"v":0},{"m":26,"t":21,"v":0},{"m":26,"t":22,"v":4},{"m":26,"t":23,"v":2},{"m":26,"t":24,"v":0.5},{"m":26,"t":25,"v":0},{"m":26,"t":27,"v":0},{"m":26,"t":28,"v":3},{"m":26,"t":29,"v":1.5},{"m":26,"t":30,"v":0},{"m":26,"t":33,"v":0},{"m":26,"t":34,"v":3.5},{"m":26,"t":35,"v":1},{"m":26,"t":36,"v":0},{"m":26,"t":38,"v":0},{"m":26,"t":39,"v":4},{"m":26,"t":40,"v":1.5},{"m":26,"t":41,"v":0},{"m":26,"t":44,"v":0},{"m":26,"t":45,"v":3},{"m":26,"t":46,"v":4},{"m":26,"t":47,"v":1},{"m":26,"t":48,"v":0},{"m":26,"t":50,"v":0},{"m":26,"t":51,"v":1.5},{"m":26,"t":52,"v":2.5},{"m":26,"t":53,"v":0},{"m":26,"t":55,"v":0},{"m":26,"t":56,"v":3},{"m":26,"t":57,"v":1.5},{"m":26,"t":58,"v":0},{"m":26,"t":59,"v":0},
{"m":27,"t":0,"v":0},{"m":27,"t":1,"v":0.4},{"m":27,"t":2,"v":0.2},{"m":27,"t":3,"v":0},{"m":27,"t":4,"v":0.2},{"m":27,"t":5,"v":0.3},{"m":27,"t":6,"v":0.1},{"m":27,"t":7,"v":0},{"m":27,"t":9,"v":0},{"m":27,"t":10,"v":0.8},{"m":27,"t":11,"v":0.2},{"m":27,"t":12,"v":0},{"m":27,"t":22,"v":0},{"m":27,"t":23,"v":1},{"m":27,"t":24,"v":0.3},{"m":27,"t":25,"v":0},{"m":27,"t":26,"v":5.5},{"m":27,"t":27,"v":1},{"m":27,"t":28,"v":0},{"m":27,"t":31,"v":0},{"m":27,"t":32,"v":3},{"m":27,"t":33,"v":4},{"m":27,"t":34,"v":1},{"m":27,"t":35,"v":0},{"m":27,"t":38,"v":0},{"m":27,"t":39,"v":2},{"m":27,"t":40,"v":0.5},{"m":27,"t":41,"v":0},{"m":27,"t":42,"v":3.5},{"m":27,"t":43,"v":2},{"m":27,"t":44,"v":0},{"m":27,"t":47,"v":0},{"m":27,"t":48,"v":3},{"m":27,"t":49,"v":2},{"m":27,"t":50,"v":0},{"m":27,"t":54,"v":0},{"m":27,"t":55,"v":2.5},{"m":27,"t":56,"v":1},{"m":27,"t":57,"v":0},{"m":27,"t":58,"v":2},{"m":27,"t":59,"v":3.5},
{"m":28,"t":0,"v":0},{"m":28,"t":1,"v":0.6},{"m":28,"t":2,"v":0.3},{"m":28,"t":3,"v":0},{"m":28,"t":4,"v":0.3},{"m":28,"t":5,"v":0.5},{"m":28,"t":6,"v":0.2},{"m":28,"t":7,"v":0},{"m":28,"t":19,"v":0},{"m":28,"t":20,"v":0.5},{"m":28,"t":21,"v":2},{"m":28,"t":22,"v":0.5},{"m":28,"t":23,"v":0},{"m":28,"t":24,"v":3},{"m":28,"t":25,"v":1.5},{"m":28,"t":26,"v":0},{"m":28,"t":29,"v":0},{"m":28,"t":30,"v":1.5},{"m":28,"t":31,"v":0.5},{"m":28,"t":32,"v":0},{"m":28,"t":35,"v":0},{"m":28,"t":36,"v":3.5},{"m":28,"t":37,"v":4.5},{"m":28,"t":38,"v":1},{"m":28,"t":39,"v":0},{"m":28,"t":44,"v":0},{"m":28,"t":45,"v":2},{"m":28,"t":46,"v":1},{"m":28,"t":47,"v":0},{"m":28,"t":49,"v":0},{"m":28,"t":50,"v":3},{"m":28,"t":51,"v":1},{"m":28,"t":52,"v":0},{"m":28,"t":56,"v":0},{"m":28,"t":57,"v":3.5},{"m":28,"t":58,"v":4},{"m":28,"t":59,"v":1},
{"m":29,"t":0,"v":0},{"m":29,"t":1,"v":0.5},{"m":29,"t":2,"v":0.2},{"m":29,"t":3,"v":0},{"m":29,"t":4,"v":0.3},{"m":29,"t":5,"v":0.4},{"m":29,"t":6,"v":0.2},{"m":29,"t":7,"v":0},{"m":29,"t":20,"v":0},{"m":29,"t":21,"v":1.5},{"m":29,"t":22,"v":2.5},{"m":29,"t":23,"v":4.5},{"m":29,"t":24,"v":1},{"m":29,"t":25,"v":0},{"m":29,"t":26,"v":2},{"m":29,"t":27,"v":0.5},{"m":29,"t":28,"v":0},{"m":29,"t":29,"v":2.5},{"m":29,"t":30,"v":1},{"m":29,"t":31,"v":0},{"m":29,"t":33,"v":0},{"m":29,"t":34,"v":2},{"m":29,"t":35,"v":3.5},{"m":29,"t":36,"v":0.5},{"m":29,"t":37,"v":0},{"m":29,"t":39,"v":0},{"m":29,"t":40,"v":3},{"m":29,"t":41,"v":1.5},{"m":29,"t":42,"v":0},{"m":29,"t":43,"v":2.5},{"m":29,"t":44,"v":4},{"m":29,"t":45,"v":1},{"m":29,"t":46,"v":0},{"m":29,"t":47,"v":1.5},{"m":29,"t":48,"v":3.5},{"m":29,"t":49,"v":1},{"m":29,"t":50,"v":0},{"m":29,"t":52,"v":0},{"m":29,"t":53,"v":4},{"m":29,"t":54,"v":1},{"m":29,"t":55,"v":0},{"m":29,"t":56,"v":2},{"m":29,"t":57,"v":1},{"m":29,"t":58,"v":2.5},{"m":29,"t":59,"v":1},
{"m":30,"t":0,"v":0},{"m":30,"t":1,"v":0.4},{"m":30,"t":2,"v":0.3},{"m":30,"t":3,"v":0},{"m":30,"t":4,"v":0.2},{"m":30,"t":5,"v":0.5},{"m":30,"t":6,"v":0.2},{"m":30,"t":7,"v":0},{"m":30,"t":21,"v":0},{"m":30,"t":22,"v":1},{"m":30,"t":23,"v":0.5},{"m":30,"t":24,"v":2},{"m":30,"t":25,"v":3},{"m":30,"t":26,"v":6},{"m":30,"t":27,"v":2},{"m":30,"t":28,"v":1},{"m":30,"t":29,"v":0},{"m":30,"t":31,"v":0},{"m":30,"t":32,"v":1.5},{"m":30,"t":33,"v":2.5},{"m":30,"t":34,"v":0.5},{"m":30,"t":35,"v":0},{"m":30,"t":37,"v":0},{"m":30,"t":38,"v":3},{"m":30,"t":39,"v":1},{"m":30,"t":40,"v":0},{"m":30,"t":41,"v":2},{"m":30,"t":42,"v":4.5},{"m":30,"t":43,"v":1},{"m":30,"t":44,"v":0},{"m":30,"t":46,"v":0},{"m":30,"t":47,"v":1},{"m":30,"t":48,"v":0},{"m":30,"t":49,"v":2.5},{"m":30,"t":50,"v":1.5},{"m":30,"t":51,"v":0},{"m":30,"t":54,"v":0},{"m":30,"t":55,"v":1},{"m":30,"t":56,"v":2.5},{"m":30,"t":57,"v":0.5},{"m":30,"t":58,"v":0},{"m":30,"t":59,"v":2},
{"m":31,"t":0,"v":0},{"m":31,"t":1,"v":0.6},{"m":31,"t":2,"v":0.2},{"m":31,"t":3,"v":0},{"m":31,"t":4,"v":0.2},{"m":31,"t":5,"v":0.3},{"m":31,"t":6,"v":0.1},{"m":31,"t":7,"v":0},{"m":31,"t":20,"v":0},{"m":31,"t":21,"v":6},{"m":31,"t":22,"v":3},{"m":31,"t":23,"v":0.5},{"m":31,"t":24,"v":0},{"m":31,"t":26,"v":0},{"m":31,"t":27,"v":1.5},{"m":31,"t":28,"v":2.5},{"m":31,"t":29,"v":1},{"m":31,"t":30,"v":0},{"m":31,"t":31,"v":2},{"m":31,"t":32,"v":1},{"m":31,"t":33,"v":0},{"m":31,"t":36,"v":0},{"m":31,"t":37,"v":2},{"m":31,"t":38,"v":0.5},{"m":31,"t":39,"v":0},{"m":31,"t":40,"v":4},{"m":31,"t":41,"v":2.5},{"m":31,"t":42,"v":0.5},{"m":31,"t":43,"v":0},{"m":31,"t":44,"v":2.5},{"m":31,"t":45,"v":1.5},{"m":31,"t":46,"v":2.5},{"m":31,"t":47,"v":0.5},{"m":31,"t":48,"v":0},{"m":31,"t":51,"v":0},{"m":31,"t":52,"v":2},{"m":31,"t":53,"v":1},{"m":31,"t":54,"v":0},{"m":31,"t":56,"v":0},{"m":31,"t":57,"v":1.5},{"m":31,"t":58,"v":0.5},{"m":31,"t":59,"v":0},
{"m":32,"t":0,"v":0},{"m":32,"t":1,"v":0.3},{"m":32,"t":2,"v":0.2},{"m":32,"t":3,"v":0},{"m":32,"t":4,"v":0.3},{"m":32,"t":5,"v":0.6},{"m":32,"t":6,"v":0.2},{"m":32,"t":7,"v":0},{"m":32,"t":22,"v":0},{"m":32,"t":23,"v":2},{"m":32,"t":24,"v":1},{"m":32,"t":25,"v":2.5},{"m":32,"t":26,"v":0.5},{"m":32,"t":27,"v":0},{"m":32,"t":28,"v":0},{"m":32,"t":29,"v":1.5},{"m":32,"t":30,"v":0.5},{"m":32,"t":31,"v":0},{"m":32,"t":34,"v":0},{"m":32,"t":35,"v":2},{"m":32,"t":36,"v":4},{"m":32,"t":37,"v":1},{"m":32,"t":38,"v":0},{"m":32,"t":42,"v":0},{"m":32,"t":43,"v":3},{"m":32,"t":44,"v":1.5},{"m":32,"t":45,"v":0.5},{"m":32,"t":46,"v":1},{"m":32,"t":47,"v":2},{"m":32,"t":48,"v":0},{"m":32,"t":49,"v":1.5},{"m":32,"t":50,"v":0},{"m":32,"t":53,"v":0},{"m":32,"t":54,"v":1},{"m":32,"t":55,"v":2},{"m":32,"t":56,"v":0.5},{"m":32,"t":57,"v":0},{"m":32,"t":58,"v":1.5},{"m":32,"t":59,"v":2.5}
]
},
"encoding": {
"x": {"field": "t", "type": "quantitative", "scale": {"domain": [0, 59], "nice": false, "zero": false},
 "axis": {"title": null, "values": [0,1,2,3,4,5,6,7,8,9,10,11,12,13,14,15,16,17,18,19,20,21,22,23,24,25,26,27,28,29,30,31,32,33,34,35,36,37,38,39,40,41,42,43,44,45,46,47,48,49,50,51,52,53,54,55,56,57,58,59],
  "grid": true, "gridColor": {"condition": {"test": "datum.value % 4 === 3", "value": "#505050"}, "value": "#dcdcdc"},
  "tickColor": "#000", "tickSize": 4, "domainColor": "#000",
  "labelExpr": "datum.value % 4 === 1 ? ['Ma 23','Di 24','Wo 25','Do 26','Vr 27','Za 28','Zo 29','Ma 30','Di 1','Wo 2','Do 3','Vr 4','Za 5','Zo 6','Ma 7'][(datum.value - 1) / 4] : ''",
  "labelFontSize": 11, "labelColor": "#000", "labelPadding": 2, "labelOverlap": false, "labelBound": false, "labelFlush": false}},
"y": {"field": "v", "type": "quantitative", "scale": {"domain": [0, 14], "nice": false},
 "axis": {"title": null, "values": [0,2,4,6,8,10,12,14], "grid": true, "gridColor": "#dcdcdc", "tickColor": "#000", "tickSize": 5, "domainColor": "#000", "labelFontSize": 11, "labelColor": "#000", "labelPadding": 2}}
},
"layer": [
{"data": {"name": "L"}, "mark": {"type": "line", "clip": true},
 "encoding": {"detail": {"field": "m", "type": "nominal"},
  "color": {"datum": "Leden", "type": "nominal", "legend": {"title": null}, "scale": {"domain": ["Oper.", "Controle", "Leden", "gemiddelde", "mediaan (middelste waarde)"], "range": ["#d42a2a", "#2e2ed2", "#3a961c", "#1a1a1a", "#d400f0"]}},
  "strokeWidth": {"datum": "Leden", "type": "nominal", "legend": {"title": null}, "scale": {"type": "ordinal", "domain": ["Oper.", "Controle", "Leden", "gemiddelde", "mediaan (middelste waarde)"], "range": [4, 4, 1.1, 3.5, 2.5]}},
  "strokeDash": {"datum": "Leden", "type": "nominal", "legend": {"title": null}, "scale": {"domain": ["Oper.", "Controle", "Leden", "gemiddelde", "mediaan (middelste waarde)"], "range": [[1, 0], [1, 0], [1, 0], [3, 3], [9, 3, 2, 3]]}},
  "opacity": {"datum": "Leden", "type": "nominal", "legend": {"title": null}, "scale": {"type": "ordinal", "domain": ["Oper.", "Controle", "Leden", "gemiddelde", "mediaan (middelste waarde)"], "range": [1, 1, 0.5, 1, 1]}}}},
{"data": {"name": "md"}, "mark": {"type": "line", "clip": true},
 "encoding": {
  "color": {"datum": "mediaan (middelste waarde)", "type": "nominal", "legend": {"title": null}, "scale": {"domain": ["Oper.", "Controle", "Leden", "gemiddelde", "mediaan (middelste waarde)"], "range": ["#d42a2a", "#2e2ed2", "#3a961c", "#1a1a1a", "#d400f0"]}},
  "strokeWidth": {"datum": "mediaan (middelste waarde)", "type": "nominal", "legend": {"title": null}, "scale": {"type": "ordinal", "domain": ["Oper.", "Controle", "Leden", "gemiddelde", "mediaan (middelste waarde)"], "range": [4, 4, 1.1, 3.5, 2.5]}},
  "strokeDash": {"datum": "mediaan (middelste waarde)", "type": "nominal", "legend": {"title": null}, "scale": {"domain": ["Oper.", "Controle", "Leden", "gemiddelde", "mediaan (middelste waarde)"], "range": [[1, 0], [1, 0], [1, 0], [3, 3], [9, 3, 2, 3]]}},
  "opacity": {"datum": "mediaan (middelste waarde)", "type": "nominal", "legend": {"title": null}, "scale": {"type": "ordinal", "domain": ["Oper.", "Controle", "Leden", "gemiddelde", "mediaan (middelste waarde)"], "range": [1, 1, 0.5, 1, 1]}}}},
{"data": {"name": "gm"}, "mark": {"type": "line", "clip": true},
 "encoding": {
  "color": {"datum": "gemiddelde", "type": "nominal", "legend": {"title": null}, "scale": {"domain": ["Oper.", "Controle", "Leden", "gemiddelde", "mediaan (middelste waarde)"], "range": ["#d42a2a", "#2e2ed2", "#3a961c", "#1a1a1a", "#d400f0"]}},
  "strokeWidth": {"datum": "gemiddelde", "type": "nominal", "legend": {"title": null}, "scale": {"type": "ordinal", "domain": ["Oper.", "Controle", "Leden", "gemiddelde", "mediaan (middelste waarde)"], "range": [4, 4, 1.1, 3.5, 2.5]}},
  "strokeDash": {"datum": "gemiddelde", "type": "nominal", "legend": {"title": null}, "scale": {"domain": ["Oper.", "Controle", "Leden", "gemiddelde", "mediaan (middelste waarde)"], "range": [[1, 0], [1, 0], [1, 0], [3, 3], [9, 3, 2, 3]]}},
  "opacity": {"datum": "gemiddelde", "type": "nominal", "legend": {"title": null}, "scale": {"type": "ordinal", "domain": ["Oper.", "Controle", "Leden", "gemiddelde", "mediaan (middelste waarde)"], "range": [1, 1, 0.5, 1, 1]}}}},
{"data": {"name": "ct"}, "mark": {"type": "line", "clip": true},
 "encoding": {
  "color": {"datum": "Controle", "type": "nominal", "legend": {"title": null}, "scale": {"domain": ["Oper.", "Controle", "Leden", "gemiddelde", "mediaan (middelste waarde)"], "range": ["#d42a2a", "#2e2ed2", "#3a961c", "#1a1a1a", "#d400f0"]}},
  "strokeWidth": {"datum": "Controle", "type": "nominal", "legend": {"title": null}, "scale": {"type": "ordinal", "domain": ["Oper.", "Controle", "Leden", "gemiddelde", "mediaan (middelste waarde)"], "range": [4, 4, 1.1, 3.5, 2.5]}},
  "strokeDash": {"datum": "Controle", "type": "nominal", "legend": {"title": null}, "scale": {"domain": ["Oper.", "Controle", "Leden", "gemiddelde", "mediaan (middelste waarde)"], "range": [[1, 0], [1, 0], [1, 0], [3, 3], [9, 3, 2, 3]]}},
  "opacity": {"datum": "Controle", "type": "nominal", "legend": {"title": null}, "scale": {"type": "ordinal", "domain": ["Oper.", "Controle", "Leden", "gemiddelde", "mediaan (middelste waarde)"], "range": [1, 1, 0.5, 1, 1]}}}},
{"data": {"name": "op"}, "mark": {"type": "line", "clip": true},
 "encoding": {
  "color": {"datum": "Oper.", "type": "nominal", "legend": {"title": null}, "scale": {"domain": ["Oper.", "Controle", "Leden", "gemiddelde", "mediaan (middelste waarde)"], "range": ["#d42a2a", "#2e2ed2", "#3a961c", "#1a1a1a", "#d400f0"]}},
  "strokeWidth": {"datum": "Oper.", "type": "nominal", "legend": {"title": null}, "scale": {"type": "ordinal", "domain": ["Oper.", "Controle", "Leden", "gemiddelde", "mediaan (middelste waarde)"], "range": [4, 4, 1.1, 3.5, 2.5]}},
  "strokeDash": {"datum": "Oper.", "type": "nominal", "legend": {"title": null}, "scale": {"domain": ["Oper.", "Controle", "Leden", "gemiddelde", "mediaan (middelste waarde)"], "range": [[1, 0], [1, 0], [1, 0], [3, 3], [9, 3, 2, 3]]}},
  "opacity": {"datum": "Oper.", "type": "nominal", "legend": {"title": null}, "scale": {"type": "ordinal", "domain": ["Oper.", "Controle", "Leden", "gemiddelde", "mediaan (middelste waarde)"], "range": [1, 1, 0.5, 1, 1]}}}}
],
"config": {"font": "Liberation Sans", "view": {"stroke": "#000", "strokeWidth": 1}, "background": "#ffffff",
 "legend": {"orient": "none", "legendX": 0, "legendY": -16, "direction": "horizontal", "symbolType": "stroke", "symbolSize": 256, "columnPadding": 25, "labelOffset": 0, "labelFontSize": 10.5, "labelColor": "#000", "padding": 0}}
}
